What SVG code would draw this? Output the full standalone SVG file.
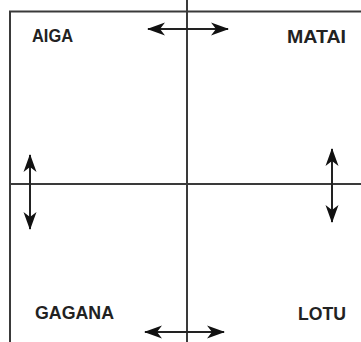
<svg xmlns="http://www.w3.org/2000/svg" width="361" height="342" viewBox="0 0 361 342">
<style>
.ln{stroke:#3a3a3a;stroke-width:2;fill:none}
.ar{stroke:#222;stroke-width:2;fill:none;marker-start:url(#h);marker-end:url(#h)}
.t{font-family:"Liberation Sans",Arial,sans-serif;font-weight:bold;font-size:19px;fill:#222}
</style>
<defs>
<marker id="h" viewBox="0 0 18 14" refX="17" refY="7" markerWidth="18" markerHeight="14" markerUnits="userSpaceOnUse" orient="auto-start-reverse">
<path d="M0,0.5 L18,7 L0,13.5 L5,7 Z" fill="#111"/>
</marker>
</defs>
<rect width="361" height="342" fill="#fff"/>
<g id="frame">
<path class="ln" d="M10,342 V11.5 H361"/>
<path class="ln" d="M187,0 V342"/>
<path class="ln" d="M10,184 H361"/>
</g>
<g id="connectors">
<path class="ar" d="M148,29 H228"/>
<path class="ar" d="M30,155 V229"/>
<path class="ar" d="M332,149 V222"/>
<path class="ar" d="M145,332 H224"/>
</g>
<g id="aiga"><text class="t" x="32" y="42" textLength="41" lengthAdjust="spacingAndGlyphs">AIGA</text></g>
<g id="matai"><text class="t" x="287" y="43" textLength="59" lengthAdjust="spacingAndGlyphs">MATAI</text></g>
<g id="gagana"><text class="t" x="35" y="319" textLength="79" lengthAdjust="spacingAndGlyphs">GAGANA</text></g>
<g id="lotu"><text class="t" x="298" y="320" textLength="48" lengthAdjust="spacingAndGlyphs">LOTU</text></g>
</svg>
